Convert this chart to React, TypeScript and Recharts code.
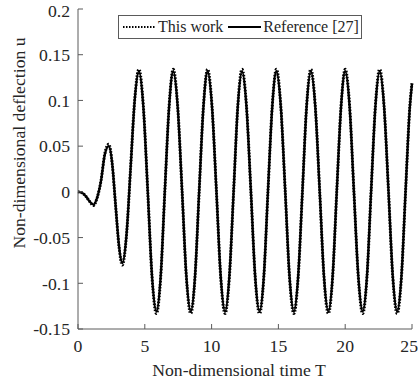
import React from 'react';
import { LineChart, Line, XAxis, YAxis, Legend } from 'recharts';

const FONT = '"Liberation Serif", "Times New Roman", serif';
const INK = '#262626';
const FRAME = '#5a5a5a';

// time samples (non-dimensional T)
const time = [
  0, 0.3, 0.6, 0.9, 1.15, 1.44, 1.72, 2.01, 2.3, 2.56, 2.81, 3.07, 3.32, 3.63, 3.94, 4.25,
  4.56, 4.89, 5.22, 5.54, 5.87, 6.19, 6.5, 6.82,
  7.13, 7.46, 7.79, 8.11, 8.44, 8.76, 9.07, 9.39,
  9.7, 10.03, 10.36, 10.68, 11.01, 11.33, 11.65, 11.96,
  12.28, 12.61, 12.94, 13.26, 13.59, 13.91, 14.22, 14.54,
  14.85, 15.18, 15.51, 15.83, 16.16, 16.48, 16.8, 17.11,
  17.43, 17.76, 18.09, 18.41, 18.74, 19.06, 19.37, 19.69,
  20.0, 20.33, 20.65, 20.98, 21.31, 21.63, 21.94, 22.26,
  22.58, 22.91, 23.24, 23.56, 23.89, 24.21, 24.52, 24.84, 25.0,
];

// Reference [27] (solid)
const reference = [
  0, -0.001, -0.005, -0.011, -0.014, -0.006, 0.012, 0.041, 0.05, 0.031, -0.014, -0.059, -0.078, -0.047, 0.027, 0.101,
  0.132, 0.093, 0.001, -0.092, -0.131, -0.092, 0.001, 0.093,
  0.132, 0.093, 0.001, -0.092, -0.131, -0.092, 0.001, 0.093,
  0.132, 0.093, 0.001, -0.092, -0.131, -0.092, 0.001, 0.093,
  0.132, 0.093, 0.001, -0.092, -0.131, -0.092, 0.001, 0.093,
  0.132, 0.093, 0.001, -0.092, -0.131, -0.092, 0.001, 0.093,
  0.132, 0.093, 0.001, -0.092, -0.131, -0.092, 0.001, 0.093,
  0.132, 0.093, 0.001, -0.092, -0.131, -0.092, 0.001, 0.093,
  0.132, 0.093, 0.001, -0.092, -0.131, -0.092, 0.001, 0.093, 0.118,
];

// This work (dotted), peaks overshoot slightly
const thisWork = [
  0, -0.001, -0.005, -0.011, -0.015, -0.006, 0.012, 0.042, 0.052, 0.031, -0.014, -0.06, -0.08, -0.047, 0.027, 0.102,
  0.134, 0.094, 0.001, -0.093, -0.133, -0.093, 0.001, 0.094,
  0.134, 0.094, 0.001, -0.093, -0.133, -0.093, 0.001, 0.094,
  0.134, 0.094, 0.001, -0.093, -0.133, -0.093, 0.001, 0.094,
  0.134, 0.094, 0.001, -0.093, -0.133, -0.093, 0.001, 0.094,
  0.134, 0.094, 0.001, -0.093, -0.133, -0.093, 0.001, 0.094,
  0.134, 0.094, 0.001, -0.093, -0.133, -0.093, 0.001, 0.094,
  0.134, 0.094, 0.001, -0.093, -0.133, -0.093, 0.001, 0.094,
  0.134, 0.094, 0.001, -0.093, -0.133, -0.093, 0.001, 0.094, 0.119,
];

const xTicks = [0, 5, 10, 15, 20, 25];
const yTicks = [-0.15, -0.1, -0.05, 0, 0.05, 0.1, 0.15, 0.2];
const seriesOrder = ['This work', 'Reference [27]'];

const data = time.map((t, i) => ({ t, thisWork: thisWork[i], reference: reference[i] }));

const tickStyle = { fontFamily: FONT, fontSize: 17.7, fill: INK };

const LegendBox = ({ payload }: any) => {
  const items = [...(payload || [])].sort(
    (a: any, b: any) => seriesOrder.indexOf(a.value) - seriesOrder.indexOf(b.value)
  );
  return (
    <div
      style={{
        border: `1px solid ${FRAME}`,
        background: '#fff',
        height: 22,
        display: 'flex',
        alignItems: 'center',
        fontFamily: FONT,
        fontSize: 16,
        color: INK,
        whiteSpace: 'nowrap',
      }}
    >
      {items.map((p: any, i: number) => (
        <span key={p.value} style={{ display: 'flex', alignItems: 'center', marginLeft: i === 0 ? 4 : 5 }}>
          <svg width={33} height={6}>
            <line
              x1={0}
              y1={3}
              x2={33}
              y2={3}
              stroke="#000"
              strokeWidth={2}
              strokeDasharray={p.value === 'This work' ? '1.5 1.5' : undefined}
            />
          </svg>
          <span style={{ marginLeft: 2 }}>{p.value}</span>
        </span>
      ))}
    </div>
  );
};

export default function App() {
  return (
    <div style={{ position: 'absolute', left: 0, top: 0, background: '#fff' }}>
      <LineChart width={418} height={382} data={data} margin={{ top: 9, right: 6, bottom: 0, left: 0 }}>
        <XAxis
          dataKey="t"
          type="number"
          domain={[0, 25]}
          ticks={xTicks}
          height={53}
          tickSize={-5}
          tickMargin={15}
          stroke={FRAME}
          tick={tickStyle}
          label={{
            content: () => (
              <text x={239} y={376} textAnchor="middle" fontFamily={FONT} fontSize={17.7} fill={INK}>
                Non-dimensional time T
              </text>
            ),
          }}
        />
        <XAxis
          xAxisId="top"
          orientation="top"
          dataKey="t"
          type="number"
          domain={[0, 25]}
          ticks={xTicks}
          height={0}
          tickSize={-5}
          tick={false}
          stroke={FRAME}
        />
        <YAxis
          type="number"
          domain={[-0.15, 0.2]}
          ticks={yTicks}
          width={78}
          tickSize={-5}
          tickMargin={13}
          stroke={FRAME}
          tick={tickStyle}
          label={{
            content: () => (
              <text
                x={25}
                y={143}
                transform="rotate(-90, 25, 143)"
                textAnchor="middle"
                fontFamily={FONT}
                fontSize={17.7}
                fill={INK}
              >
                Non-dimensional deflection u
              </text>
            ),
          }}
        />
        <YAxis
          yAxisId="right"
          orientation="right"
          type="number"
          domain={[-0.15, 0.2]}
          ticks={yTicks}
          width={0}
          tickSize={-5}
          tick={false}
          stroke={FRAME}
        />
        <Legend
          layout="horizontal"
          verticalAlign="middle"
          align="center"
          content={<LegendBox />}
          wrapperStyle={{ top: 15, left: 118, width: 244, height: 24 }}
        />
        <Line
          name="This work"
          dataKey="thisWork"
          type="monotone"
          stroke="#000"
          strokeWidth={3}
          strokeDasharray="1.5 1.5"
          dot={false}
          isAnimationActive={false}
        />
        <Line
          name="Reference [27]"
          dataKey="reference"
          type="monotone"
          stroke="#000"
          strokeWidth={2.3}
          dot={false}
          isAnimationActive={false}
        />
      </LineChart>
    </div>
  );
}
